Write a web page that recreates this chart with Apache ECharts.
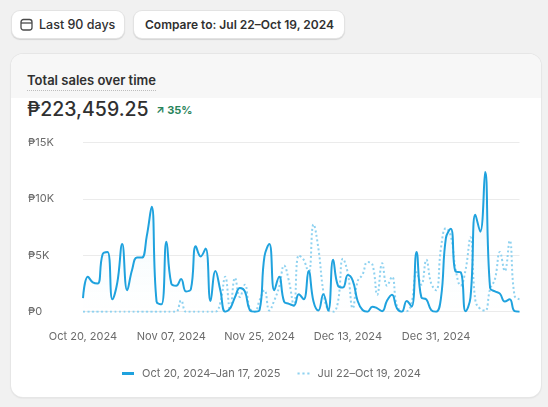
<!DOCTYPE html>
<html>
<head>
<meta charset="utf-8">
<script src="https://cdn.jsdelivr.net/npm/echarts@6/dist/echarts.min.js"></script>
<style>
  html, body { margin: 0; padding: 0; }
  body { width: 548px; height: 407px; background: #f1f1f1; position: relative; overflow: hidden;
         font-family: Inter, "Noto Sans", "DejaVu Sans", sans-serif; color: #303030; }
  .btn { position: absolute; top: 11px; height: 27px; background: #fff; border-radius: 8px;
         box-shadow: 0 0 0 1px #e3e3e3, 0 1px 1px 1px rgba(0,0,0,0.12); font-size: 12.5px; line-height: 27px; }
  .card { position: absolute; left: 11px; top: 54px; width: 530px; height: 343px; background: #fff;
          border-radius: 12px; box-shadow: 0 0 0 1px #e6e6e6, 0 1px 2px rgba(0,0,0,0.12); overflow: hidden; }
  .band { position: absolute; left: 0; top: 0; width: 100%; height: 44px; background: #f7f7f7; }
  .title { position: absolute; left: 16px; top: 17px; font-size: 13px; font-weight: 600; line-height: 18px;
           border-bottom: 1.5px dotted #bdbdbd; padding-bottom: 1px; }
  .total { position: absolute; left: 16px; top: 42px; font-size: 19.5px; font-weight: 550; line-height: 26px; }
  .pct { position: absolute; left: 145px; top: 49px; font-size: 11px; font-weight: 700; color: #29845a; line-height: 14px; }
  #chart { position: absolute; left: 0; top: 0; width: 548px; height: 407px; z-index: 2; }
</style>
</head>
<body>
<div class="btn" style="left:12px;width:112px;">
  <svg style="position:absolute;left:8px;top:7px" width="13" height="13" viewBox="0 0 13 13">
    <rect x="1" y="1.5" width="11" height="10.5" rx="2.5" fill="none" stroke="#4a4a4a" stroke-width="1.3"/>
    <line x1="1" y1="5" x2="12" y2="5" stroke="#4a4a4a" stroke-width="1.3"/>
  </svg>
  <span style="position:absolute;left:27px;font-weight:450;">Last 90 days</span>
</div>
<div class="btn" style="left:134px;width:210px;">
  <span style="position:absolute;left:11px;font-weight:600;font-size:12px;">Compare to: Jul 22–Oct 19, 2024</span>
</div>
<div class="card">
  <div class="band"></div>
  <div class="title">Total sales over time</div>
  <div class="total">₱223,459.25</div>
  <div class="pct">↗ 35%</div>
</div>
<div id="chart"></div>
<script>
// Daily totals, Oct 20, 2024 – Jan 17, 2025 (90 days), in pesos
const currentSales = [
  1200, 3100, 2600, 2500, 5100, 5300, 1100, 2600, 6000, 1900,
  3700, 4800, 4800, 6700, 9300, 900, 650, 6200, 2500, 2300,
  2900, 1800, 2000, 5800, 4900, 5600, 950, 3600, 1900, 0,
  300, 1300, 2100, 1800, 150, 0, 150, 4900, 6000, 1900,
  3100, 900, 700, 550, 1550, 1100, 3600, 900, 100, 1550,
  100, 4600, 2300, 2150, 3250, 2750, 950, 150, 0, 450,
  300, 50, 1000, 1500, 300, 0, 950, 450, 5300, 1250,
  1100, 150, 0, 1250, 6550, 7350, 3550, 3500, 50, 1250,
  8600, 7100, 12400, 2100, 1800, 1600, 900, 1100, 50, 0
];
// Daily totals, Jul 22 – Oct 19, 2024 (comparison period)
const previousSales = [
  0, 0, 0, 0, 0, 0, 0, 0, 0, 0,
  0, 0, 0, 0, 0, 0, 0, 0, 0, 0,
  1000, 0, 0, 0, 0, 0, 0, 0, 800, 3100,
  200, 3000, 1300, 2400, 300, 0, 1000, 1900, 100, 1000,
  2200, 4100, 2700, 500, 5000, 4600, 3400, 7750, 5600, 1800,
  150, 0, 900, 4700, 3400, 300, 2700, 3300, 4400, 4200,
  1500, 4300, 2300, 3100, 500, 100, 50, 800, 3500, 2400,
  4600, 2500, 1900, 5700, 7400, 6700, 3700, 2300, 3700, 6600,
  1000, 250, 100, 2000, 2900, 5300, 3600, 6300, 1400, 1100
];
const seriesNames = ['Oct 20, 2024–Jan 17, 2025', 'Jul 22–Oct 19, 2024'];
const yTicks = { min: 0, max: 15000, interval: 5000 };
const startDate = { year: 2024, month: 9, day: 20 }; // Oct 20, 2024
const monthNames = ['Jan','Feb','Mar','Apr','May','Jun','Jul','Aug','Sep','Oct','Nov','Dec'];

const categories = currentSales.map((_, i) => {
  const d = new Date(Date.UTC(startDate.year, startDate.month, startDate.day + i));
  return monthNames[d.getUTCMonth()] + ' ' + String(d.getUTCDate()).padStart(2, '0') + ', ' + d.getUTCFullYear();
});

const FONT = 'Inter, "Noto Sans", "DejaVu Sans", sans-serif';
const chart = echarts.init(document.getElementById('chart'), null, { renderer: 'canvas' });
chart.setOption({
  animation: false,
  backgroundColor: 'transparent',
  grid: { left: 83, right: 28.5, top: 142.6, bottom: 95.3, containLabel: false },
  xAxis: {
    type: 'category',
    data: categories,
    boundaryGap: false,
    axisLine: { show: false },
    axisTick: { show: false },
    axisLabel: { interval: 17, color: '#6b6b6b', fontSize: 11, fontFamily: FONT, margin: 19 },
    splitLine: { show: false }
  },
  yAxis: {
    type: 'value',
    min: yTicks.min, max: yTicks.max, interval: yTicks.interval,
    axisLine: { show: false },
    axisTick: { show: false },
    axisLabel: {
      align: 'left', margin: 55, color: '#6b6b6b', fontSize: 11, fontFamily: FONT,
      formatter: v => v === 0 ? '₱0' : '₱' + (v / 1000) + 'K'
    },
    splitLine: { lineStyle: { color: '#ebebeb', width: 1 } }
  },
  legend: {
    left: 117, top: 363,
    itemWidth: 12, itemHeight: 3, itemGap: 17,
    textStyle: { color: '#6b6b6b', fontSize: 11, fontFamily: FONT, padding: [0, 0, 0, 3] },
    data: [
      { name: seriesNames[0], icon: 'rect', itemStyle: { color: '#1fa2de' } },
      { name: seriesNames[1], icon: 'path://M0,0h2v2h-2zM4.5,0h2v2h-2zM9,0h2v2h-2z', itemStyle: { color: '#8fd2f0' } }
    ]
  },
  series: [
    {
      name: seriesNames[1],
      type: 'line',
      data: previousSales,
      smooth: 0.45,
      showSymbol: false,
      z: 2,
      lineStyle: { color: '#8fd2f0', width: 2, type: [2, 2.5] },
      itemStyle: { color: '#8fd2f0' }
    },
    {
      name: seriesNames[0],
      type: 'line',
      data: currentSales,
      smooth: 0.45,
      showSymbol: false,
      z: 3,
      lineStyle: { color: '#1fa2de', width: 2 },
      itemStyle: { color: '#1fa2de' },
      areaStyle: {
        color: new echarts.graphic.LinearGradient(0, 0, 0, 1, [
          { offset: 0, color: 'rgba(31,162,222,0.10)' },
          { offset: 1, color: 'rgba(31,162,222,0.0)' }
        ])
      }
    }
  ]
});
</script>
</body>
</html>
